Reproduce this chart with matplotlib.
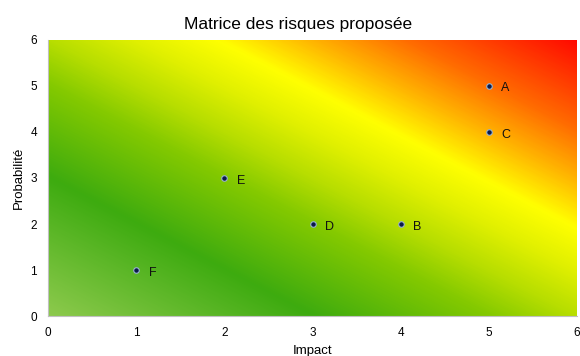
import matplotlib
matplotlib.use("Agg")
import matplotlib.pyplot as plt
import numpy as np
from matplotlib.colors import LinearSegmentedColormap

plt.rcParams['font.family'] = ['Liberation Sans', 'DejaVu Sans']

names = ["A", "B", "C", "D", "E", "F"]
impact = [5, 4, 5, 3, 2, 1]
proba = [5, 2, 4, 2, 3, 1]

# diagonal green -> yellow -> red background
cmap = LinearSegmentedColormap.from_list("risk", [
    (0.0, (0.55, 0.79, 0.30)),
    (0.25, (0.24, 0.67, 0.06)),
    (0.42, (0.52, 0.79, 0.0)),
    (0.5, (0.72, 0.87, 0.0)),
    (0.58, (0.88, 0.94, 0.0)),
    (0.66, (1.0, 1.0, 0.0)),
    (0.75, (1.0, 0.70, 0.0)),
    (0.84, (1.0, 0.42, 0.0)),
    (1.0, (1.0, 0.04, 0.0)),
])
gx, gy = np.meshgrid(np.linspace(0, 6, 300), np.linspace(0, 6, 300))
grad = (gx + gy) / 12

fig = plt.figure(figsize=(5.8, 3.56), dpi=100)
ax = fig.add_axes([0.083, 0.112, 0.912, 0.776])
ax.imshow(grad, extent=[0, 6, 0, 6], origin='lower', cmap=cmap,
          vmin=0, vmax=1, aspect='auto', interpolation='bilinear')

ax.scatter(impact, proba, s=16, color='#0a1a4a', edgecolors='#9ab4d0',
           linewidths=0.8, zorder=3)
for n, x, y in zip(names, impact, proba):
    ax.annotate(n, (x, y), xytext=(9, -4), textcoords='offset points',
                fontsize=9, color='#111111')

ax.set_xlim(0, 6)
ax.set_ylim(0, 6)
ax.set_xticks(range(7))
ax.set_yticks(range(7))
ax.tick_params(axis='x', length=0, labelsize=8.5, pad=8)
ax.tick_params(axis='y', length=0, labelsize=8.5, pad=8)
for s in ['top', 'right']:
    ax.spines[s].set_visible(False)
for s in ['left', 'bottom']:
    ax.spines[s].set_color('#c0c0c0')
ax.set_title("Matrice des risques proposée", fontsize=12.5, pad=8, x=0.473)
ax.set_xlabel("Impact", fontsize=9.5, labelpad=4)
ax.set_ylabel("Probabilité", fontsize=9.5, labelpad=4)

fig.savefig("out.png", dpi=100)
